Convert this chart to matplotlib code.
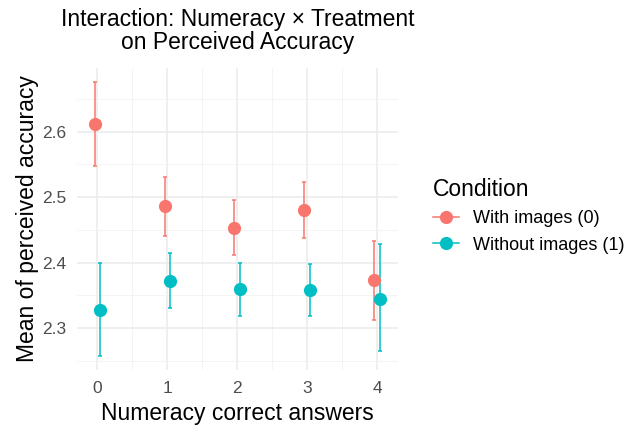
import matplotlib
matplotlib.use("Agg")
import matplotlib.pyplot as plt
import numpy as np
from matplotlib.lines import Line2D

plt.rcParams['font.family'] = ['Liberation Sans', 'DejaVu Sans']

numeracy = [0, 1, 2, 3, 4]
with_mean = [2.612, 2.486, 2.453, 2.480, 2.373]
with_lo = [2.547, 2.441, 2.412, 2.437, 2.313]
with_hi = [2.676, 2.530, 2.495, 2.523, 2.433]
without_mean = [2.328, 2.372, 2.359, 2.358, 2.345]
without_lo = [2.257, 2.330, 2.318, 2.318, 2.265]
without_hi = [2.400, 2.414, 2.400, 2.398, 2.428]
labels = ["With images (0)", "Without images (1)"]
colors = ["#F8766D", "#00BFC4"]

fig = plt.figure(figsize=(6.32, 4.32), dpi=100)
ax = fig.add_axes([0.122, 0.1435, 0.508, 0.699])

series = [(with_mean, with_lo, with_hi), (without_mean, without_lo, without_hi)]
offsets = [-0.04, 0.04]
x = np.array(numeracy, dtype=float)
for (m, lo, hi), off, c in zip(series, offsets, colors):
    m = np.array(m); lo = np.array(lo); hi = np.array(hi)
    ax.errorbar(x + off, m, yerr=[m - lo, hi - m], fmt='none', ecolor=c,
                elinewidth=1.1, capsize=1.5, capthick=1.1, zorder=3)
    ax.plot(x + off, m, 'o', color=c, markersize=9.5, markeredgewidth=0, zorder=4)

ax.set_xlim(-0.29, 4.30)
ax.set_ylim(2.236, 2.697)
ax.set_xticks(numeracy)
ax.set_xticks([0.5, 1.5, 2.5, 3.5], minor=True)
ax.set_yticks([2.3, 2.4, 2.5, 2.6])
ax.set_yticklabels(["2.3", "2.4", "2.5", "2.6"])
ax.set_yticks([2.25, 2.35, 2.45, 2.55, 2.65], minor=True)
ax.grid(True, which='major', color='#EBEBEB', linewidth=1.1, zorder=0)
ax.grid(True, which='minor', color='#F2F2F2', linewidth=0.6, zorder=0)
ax.set_axisbelow(True)
for s in ax.spines.values():
    s.set_visible(False)
ax.tick_params(axis='both', which='both', length=0, labelsize=12.5, labelcolor='#4D4D4D')
ax.tick_params(axis='x', pad=8)
ax.tick_params(axis='y', pad=8)

ax.set_xlabel("Numeracy correct answers", fontsize=16.5, labelpad=4)
ax.set_ylabel("Mean of perceived accuracy", fontsize=16.5, labelpad=2)
ax.set_title("Interaction: Numeracy × Treatment\non Perceived Accuracy", fontsize=16.5,
             linespacing=1.0, pad=14)

handles = [Line2D([0], [0], color=c, marker='o', markersize=9.5, linewidth=1.1,
                  markeredgewidth=0) for c in colors]
leg = fig.legend(handles, labels, title="Condition", loc='center left',
                 bbox_to_anchor=(0.660, 0.5), frameon=False, fontsize=13,
                 title_fontsize=16.5, handlelength=1.4, handletextpad=0.8,
                 labelspacing=0.5)
leg._legend_box.align = "left"

fig.savefig("out.png", dpi=100)
